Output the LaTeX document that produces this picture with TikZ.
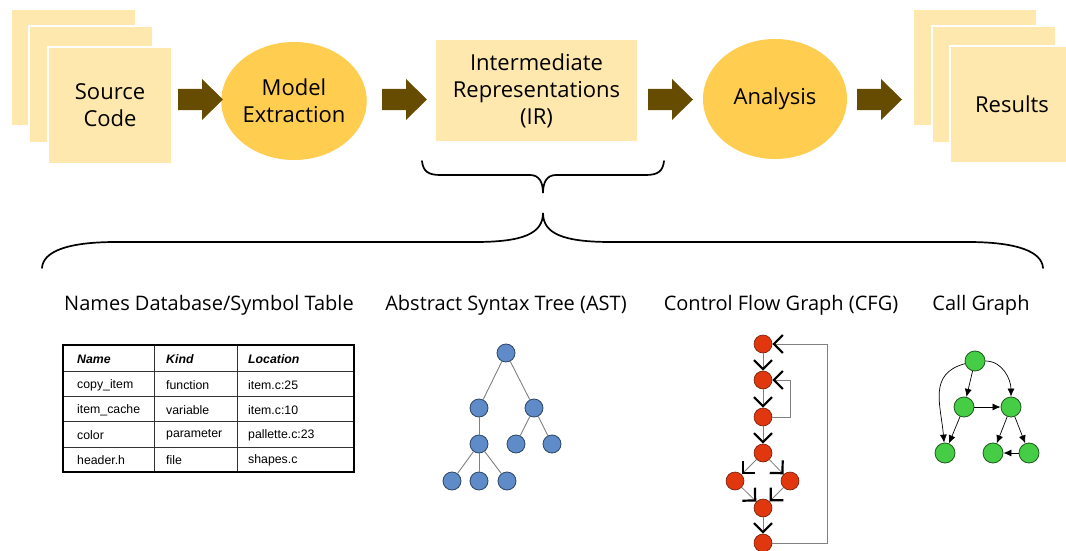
\documentclass[tikz,border=0pt]{standalone}
\usepackage{fontspec}
\setmainfont{Open Sans}
\newfontfamily\tablefont{Liberation Sans}
\usepackage{tikz}
\usetikzlibrary{arrows.meta, shapes.geometric}

\definecolor{pagefill}{RGB}{255,232,174}
\definecolor{stagefill}{RGB}{255,205,80}
\definecolor{flowbrown}{RGB}{102,76,0}
\definecolor{astblue}{RGB}{95,140,200}
\definecolor{astedge}{RGB}{45,70,100}
\definecolor{cfgred}{RGB}{225,55,15}
\definecolor{cfgedge}{RGB}{110,30,10}
\definecolor{callgreen}{RGB}{70,205,70}
\definecolor{calledge}{RGB}{30,90,30}

\begin{document}
\begin{tikzpicture}[x=1pt,y=-1pt]

  \tikzstyle{page}=[fill=pagefill,draw=white,line width=1.2pt,minimum width=124pt,minimum height=117pt,inner sep=0pt,align=center,font=\fontsize{22}{27}\selectfont]
  \tikzstyle{stage}=[ellipse,fill=stagefill,inner sep=0pt,align=center,font=\fontsize{22}{27}\selectfont]
  \tikzstyle{head}=[font=\fontsize{20}{22}\selectfont]
  \tikzstyle{cell}=[anchor=west,inner sep=0pt,font=\tablefont\fontsize{12.3}{14}\selectfont]
  \tikzstyle{cellhead}=[cell,font=\tablefont\fontsize{12.3}{14}\selectfont\bfseries\itshape]
  \tikzstyle{astnode}=[circle,fill=astblue,draw=astedge,line width=0.8pt,minimum size=18pt,inner sep=0pt]
  \tikzstyle{cfgnode}=[circle,fill=cfgred,draw=cfgedge,line width=0.6pt,minimum size=18pt,inner sep=0pt]
  \tikzstyle{callnode}=[circle,fill=callgreen,draw=calledge,line width=0.8pt,minimum size=20pt,inner sep=0pt]
  \tikzstyle{brace}=[line width=1.7pt,line cap=round]

  \useasboundingbox (0,0) rectangle (1066,551);

  % top row
  \node[page] (src3) at (73.5,67.5) {};
  \node[page] (src2) at (91,84.5) {};
  \node[page] (src) at (110,105.5) {Source\\Code};
  \node[stage,minimum width=130pt,minimum height=118pt] (model) at (294,101) {Model\\Extraction};
  \node[page,minimum width=203pt,minimum height=103pt] (ir) at (536.5,90.5) {Intermediate\\Representations\\(IR)};
  \node[stage,minimum width=144pt,minimum height=120pt] (ana) at (775,99) {Analysis};
  \node[page] (res3) at (975,67.5) {};
  \node[page] (res2) at (994,84.5) {};
  \node[page] (res) at (1012,104.5) {Results};

  \foreach \x in {178,382,648,857}
    \fill[flowbrown] (\x,89) -- ++(24,0) -- ++(0,-10) -- ++(21,20.5) -- ++(-21,20.5) -- ++(0,-10) -- ++(-24,0) -- cycle;

  % braces
  \draw[brace] (422,161) .. controls (423,171) and (428,175) .. (440,175) -- (530,175)
    .. controls (539,175) and (543,182) .. (543,193)
    .. controls (543,182) and (547,175) .. (556,175) -- (646,175)
    .. controls (658,175) and (663,171) .. (664,161);
  \draw[brace] (42,268) .. controls (43,252) and (66,242) .. (116,242) -- (475,242)
    .. controls (522,242) and (543,234) .. (543,213)
    .. controls (543,234) and (564,242) .. (611,242) -- (968,242)
    .. controls (1018,242) and (1042,252) .. (1043,268);

  \node[head] (tabhead) at (209,305) {Names Database/Symbol Table};
  \node[head] (asthead) at (506,305) {Abstract Syntax Tree (AST)};
  \node[head] (cfghead) at (781,305) {Control Flow Graph (CFG)};
  \node[head] (callhead) at (981,305) {Call Graph};

  % symbol table
  \foreach \y in {371,396,421,447}
    \draw[black!80,line width=0.7pt] (63,\y) -- (354,\y);
  \foreach \x in {154,237}
    \draw[black!80,line width=0.7pt] (\x,345) -- (\x,472);
  \draw[line width=2.2pt] (63,345) rectangle (354,472);
  \node[cellhead] (hname) at (77,359) {Name};
  \node[cellhead] (hkind) at (166,359) {Kind};
  \node[cellhead] (hloc) at (248,359) {Location};
  \foreach \y/\a/\b/\c in {385/copy\_item/function/item.c:25, 410/item\_cache/variable/item.c:10, 435/color/parameter/pallette.c:23, 460/header.h/file/shapes.c}{
    \node[cell] (name\y) at (77,\y) {\a};
    \node[cell] (kind\y) at (166,\y) {\b};
    \node[cell] (loc\y) at (248,\y) {\c};
  }

  % AST
  \node[astnode] (a1) at (506,353) {};
  \node[astnode] (a2) at (479,408) {};
  \node[astnode] (a3) at (534,408) {};
  \node[astnode] (a4) at (479,444) {};
  \node[astnode] (a5) at (516,444) {};
  \node[astnode] (a6) at (552,444) {};
  \node[astnode] (a7) at (452,481) {};
  \node[astnode] (a8) at (479,481) {};
  \node[astnode] (a9) at (507,481) {};
  \foreach \p/\q in {a1/a2,a1/a3,a2/a4,a3/a5,a3/a6,a4/a7,a4/a8,a4/a9}
    \draw[gray,line width=0.9pt] (\p) -- (\q);

  % CFG
  \node[cfgnode] (v1) at (763,344) {};
  \node[cfgnode] (v2) at (763,380) {};
  \node[cfgnode] (v3) at (763,417) {};
  \node[cfgnode] (v4) at (763,453) {};
  \node[cfgnode] (v5) at (735,481) {};
  \node[cfgnode] (v6) at (790,481) {};
  \node[cfgnode] (v7) at (763,508) {};
  \node[cfgnode] (v8) at (763,543) {};
  \coordinate (b1) at (827,344);
  \coordinate (b2) at (790,380);
  \begin{scope}[gray,line width=0.8pt,-{Straight Barb[length=9pt,width=18pt,line width=2.2pt,color=black]}]
    \foreach \p/\q in {v1/v2,v2/v3,v3/v4,v4/v5,v4/v6,v5/v7,v6/v7,v7/v8}
      \draw (\p) -- (\q);
    \draw (v8.east) -| (b1) -- (v1.east);
    \draw (v3.east) -| (b2) -- (v2.east);
  \end{scope}

  % call graph
  \node[callnode] (c1) at (975,361) {};
  \node[callnode] (c2) at (964,407) {};
  \node[callnode] (c3) at (1011,407) {};
  \node[callnode] (c4) at (945,453) {};
  \node[callnode] (c5) at (993,453) {};
  \node[callnode] (c6) at (1029,453) {};
  \begin{scope}[line width=0.7pt,-{Latex[length=8pt,width=7pt]}]
    \draw (c1) -- (c2);
    \draw (c2) -- (c3);
    \draw (c2) -- (c4);
    \draw (c3) -- (c5);
    \draw (c3) -- (c6);
    \draw (c6) -- (c5);
    \draw (c1) to[out=195,in=95,looseness=1.2] (c4);
    \draw (c1) to[out=0,in=90] (c3);
  \end{scope}

  %\draw[step=50pt,gray,very thin] (0,0) grid (1066,551);

\end{tikzpicture}
\end{document}
